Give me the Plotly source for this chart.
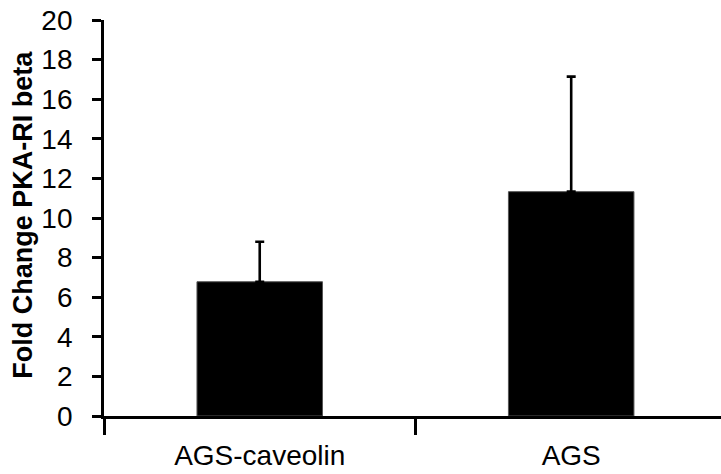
import plotly.graph_objects as go

categories = ["AGS-caveolin", "AGS"]
fold_change = [6.78, 11.33]
error_plus = [2.02, 5.81]
y_ticks = [0, 2, 4, 6, 8, 10, 12, 14, 16, 18, 20]
y_title = "Fold Change PKA-RI beta"

fig = go.Figure(go.Bar(
    x=categories, y=fold_change,
    marker=dict(color="black", line=dict(color="#555", width=1)),
    width=0.403,
    error_y=dict(type="data", array=error_plus, symmetric=False, arrayminus=[0, 0],
                 color="black", thickness=2.6, width=4.5),
))

fig.update_layout(
    width=721, height=474,
    margin=dict(l=104, r=0, t=20, b=58, autoexpand=False),
    paper_bgcolor="white", plot_bgcolor="white",
    font=dict(family="Liberation Sans, Arial, Helvetica, sans-serif", color="black", size=28),
    showlegend=False,
)
fig.update_xaxes(
    type="category", tickson="boundaries", range=[-0.5, 1.481],
    showline=True, linecolor="black", linewidth=2.8,
    ticks="outside", ticklen=16, tickwidth=2.6, tickcolor="black",
    tickfont=dict(size=28), ticklabelstandoff=12, ticklabeloverflow="allow",
    showgrid=False, zeroline=False, automargin=False,
)
fig.update_yaxes(
    range=[0, 20], tickvals=y_ticks,
    showline=True, linecolor="black", linewidth=2.8,
    ticks="outside", ticklen=9, tickwidth=2.6, tickcolor="black",
    tickfont=dict(size=28), ticklabelstandoff=14, ticklabeloverflow="allow",
    showgrid=False, zeroline=False, automargin=False,
)
fig.add_annotation(
    text="<b>" + y_title + "</b>", textangle=-90,
    xref="paper", yref="paper", x=-0.1313, y=0.508,
    xanchor="center", yanchor="middle", showarrow=False,
    font=dict(size=27, color="black"),
)

fig.write_html("out.html", config={"displayModeBar": False},
               post_script="document.body.style.margin='0';")
